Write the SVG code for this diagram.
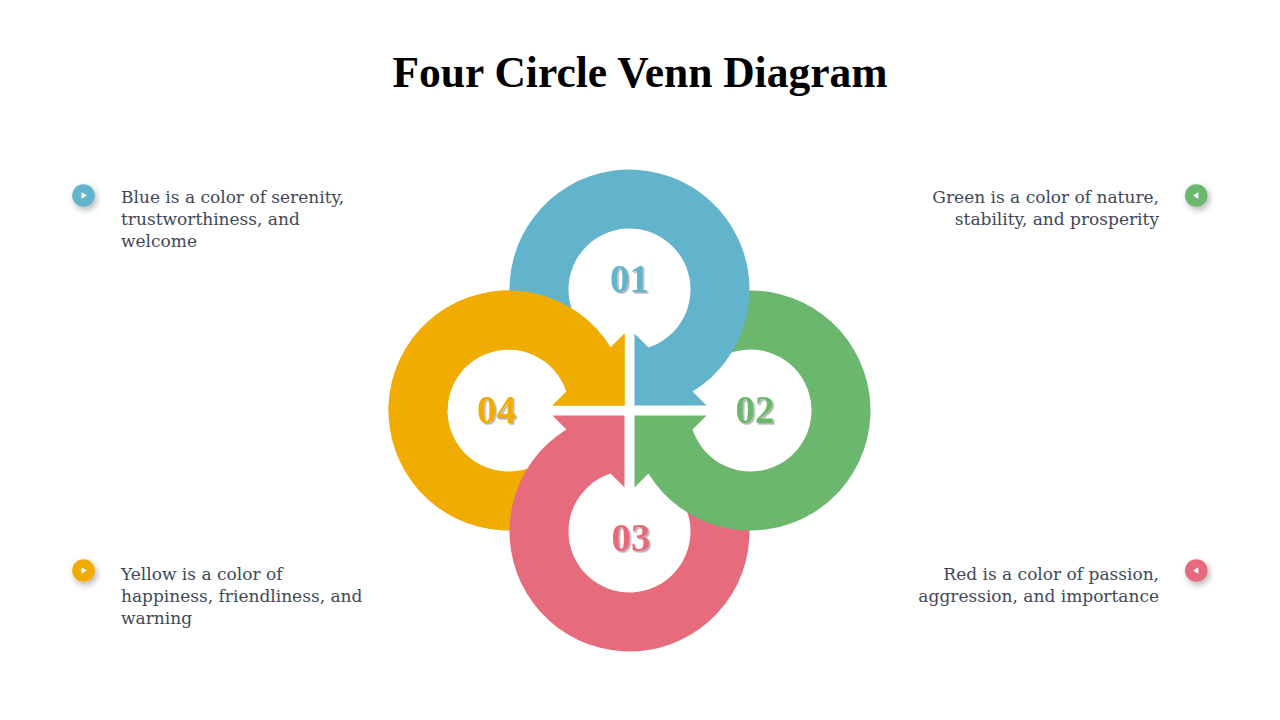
<svg xmlns="http://www.w3.org/2000/svg" xmlns:xlink="http://www.w3.org/1999/xlink" width="1280" height="720" viewBox="0 0 1280 720">
  <style>
    .title { font-family: "Liberation Serif", "Times New Roman", serif; font-weight: bold; font-size: 43.5px; fill: #000000; }
    .num { font-family: "Liberation Serif", "Times New Roman", serif; font-weight: bold; font-size: 39px; text-anchor: middle; filter: url(#txtShadow); }
    .desc { font-family: "DejaVu Serif", "Liberation Serif", serif; font-size: 17px; fill: #404859; }
    .right { text-anchor: end; }
    .blue { fill: #62B4CD; }
    .green { fill: #6CB76E; }
    .red { fill: #E66B7D; }
    .yellow { fill: #F0AC00; }
    .tri { fill: #FFFFFF; }
  </style>
  <defs>
    <path id="arcArrow" d="M -103.92 -61 A 120 120 0 1 1 63.08 -18.92 L 77 -5 L 5 -5 L 5 -77 L 18.97 -63.03 A 61 61 0 1 0 -52.83 -90.5 Z"/>
    <clipPath id="clipTL">
      <rect x="0" y="0" width="629.5" height="410.5"/>
    </clipPath>
    <filter id="txtShadow" x="-20%" y="-20%" width="150%" height="150%">
      <feDropShadow dx="1.6" dy="1.6" stdDeviation="0.7" flood-color="#000000" flood-opacity="0.3"/>
    </filter>
    <filter id="dotShadow" x="-80%" y="-80%" width="260%" height="260%">
      <feDropShadow dx="2" dy="3" stdDeviation="3" flood-color="#000000" flood-opacity="0.3"/>
    </filter>
  </defs>

  <rect x="0" y="0" width="1280" height="720" fill="#FFFFFF"/>

  <text class="title" x="640" y="87" text-anchor="middle">Four Circle Venn Diagram</text>

  <g id="node-04">
    <use xlink:href="#arcArrow" href="#arcArrow" class="yellow" transform="translate(629.5 410.5) rotate(-90)"/>
    <text class="num yellow" x="496.5" y="423">04</text>
  </g>
  <g id="node-03">
    <use xlink:href="#arcArrow" href="#arcArrow" class="red" transform="translate(629.5 410.5) rotate(180)"/>
    <text class="num red" x="631" y="550.5">03</text>
  </g>
  <g id="node-02">
    <use xlink:href="#arcArrow" href="#arcArrow" class="green" transform="translate(629.5 410.5) rotate(90)"/>
    <text class="num green" x="755" y="423">02</text>
  </g>
  <g id="node-01">
    <use xlink:href="#arcArrow" href="#arcArrow" class="blue" transform="translate(629.5 410.5)"/>
    <text class="num blue" x="629.5" y="292">01</text>
  </g>
  <g id="node-04-overlap" clip-path="url(#clipTL)">
    <use xlink:href="#arcArrow" href="#arcArrow" class="yellow" transform="translate(629.5 410.5) rotate(-90)"/>
  </g>

  <g id="connectors"></g>

  <g id="legend-blue">
    <circle class="blue" cx="83.5" cy="195.5" r="11.3" filter="url(#dotShadow)"/>
    <polygon class="tri" points="81.5,192.3 81.5,198.7 86.8,195.5"/>
    <text class="desc" x="121" y="203">Blue is a color of serenity,</text>
    <text class="desc" x="121" y="225">trustworthiness, and</text>
    <text class="desc" x="121" y="247">welcome</text>
  </g>
  <g id="legend-green">
    <circle class="green" cx="1196.3" cy="195.5" r="11.3" filter="url(#dotShadow)"/>
    <polygon class="tri" points="1198.3,192.3 1198.3,198.7 1193,195.5"/>
    <text class="desc right" x="1159" y="203">Green is a color of nature,</text>
    <text class="desc right" x="1159" y="225">stability, and prosperity</text>
  </g>
  <g id="legend-yellow">
    <circle class="yellow" cx="83.5" cy="570.5" r="11.3" filter="url(#dotShadow)"/>
    <polygon class="tri" points="81.5,567.3 81.5,573.7 86.8,570.5"/>
    <text class="desc" x="121" y="580">Yellow is a color of</text>
    <text class="desc" x="121" y="602">happiness, friendliness, and</text>
    <text class="desc" x="121" y="624">warning</text>
  </g>
  <g id="legend-red">
    <circle class="red" cx="1196.3" cy="570.5" r="11.3" filter="url(#dotShadow)"/>
    <polygon class="tri" points="1198.3,567.3 1198.3,573.7 1193,570.5"/>
    <text class="desc right" x="1159" y="580">Red is a color of passion,</text>
    <text class="desc right" x="1159" y="602">aggression, and importance</text>
  </g>
</svg>
